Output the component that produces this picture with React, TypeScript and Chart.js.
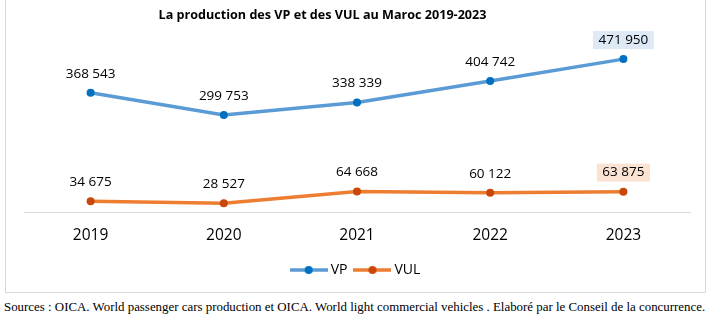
import React, { useEffect, useRef } from "react";
import { Chart, registerables } from "chart.js";

Chart.register(...registerables);

const TITLE = "La production des VP et des VUL au Maroc 2019-2023";
const SOURCE =
  "Sources : OICA. World passenger cars production et OICA. World light commercial vehicles . Elaboré par le Conseil de la concurrence.";

const years = ["2019", "2020", "2021", "2022", "2023"];
const vpValues = [368543, 299753, 338339, 404742, 471950];
const vulValues = [34675, 28527, 64668, 60122, 63875];
// highlighted label backgrounds (null = none)
const vpLabelBg = [null, null, null, null, "#dde9f5"];
const vulLabelBg = [null, null, null, null, "#fbe3d4"];

const fmt = (v: number) => String(v).replace(/\B(?=(\d{3})+(?!\d))/g, " ");

function makeLegendImage(line: string, dot: string) {
  const c = document.createElement("canvas");
  c.width = 38;
  c.height = 10;
  const x = c.getContext("2d")!;
  x.strokeStyle = line;
  x.lineWidth = 3.5;
  x.beginPath();
  x.moveTo(0, 5);
  x.lineTo(38, 5);
  x.stroke();
  x.fillStyle = dot;
  x.beginPath();
  x.arc(19, 5, 4, 0, Math.PI * 2);
  x.fill();
  return c;
}

const labelPlugin = {
  id: "valueLabels",
  afterDatasetsDraw(chart: any) {
    const ctx = chart.ctx;
    ctx.save();
    ctx.font = "13.5px 'Open Sans'";
    ctx.textAlign = "center";
    ctx.textBaseline = "middle";
    chart.data.datasets.forEach((ds: any, di: number) => {
      const meta = chart.getDatasetMeta(di);
      meta.data.forEach((pt: any, i: number) => {
        const txt = fmt(ds.data[i]);
        const x = pt.x;
        const y = pt.y - 19;
        const bg = ds.labelBg ? ds.labelBg[i] : null;
        if (bg) {
          const w = ctx.measureText(txt).width + 11;
          ctx.fillStyle = bg;
          ctx.fillRect(x - w / 2, y - 9, w, 18);
        }
        ctx.fillStyle = "#000";
        ctx.fillText(txt, x, y);
      });
    });
    ctx.restore();
  },
};

export default function App() {
  const ref = useRef<HTMLCanvasElement>(null);
  useEffect(() => {
    const vpImg = makeLegendImage("#5b9bd5", "#0070c0");
    const vulImg = makeLegendImage("#ed7d31", "#c9470a");
    const chart = new Chart(ref.current!, {
      type: "line",
      data: {
        labels: years,
        datasets: [
          {
            label: "VP",
            data: vpValues,
            borderColor: "#5b9bd5",
            borderWidth: 3.5,
            pointBackgroundColor: "#0070c0",
            pointBorderColor: "#0070c0",
            pointRadius: 4,
            pointBorderWidth: 0,
            labelBg: vpLabelBg,
          } as any,
          {
            label: "VUL",
            data: vulValues,
            borderColor: "#ed7d31",
            borderWidth: 3.5,
            pointBackgroundColor: "#c9470a",
            pointBorderColor: "#c9470a",
            pointRadius: 4,
            pointBorderWidth: 0,
            labelBg: vulLabelBg,
          } as any,
        ],
      },
      options: {
        responsive: false,
        animation: false,
        devicePixelRatio: 1,
        layout: { padding: { top: 50, left: 24, right: 19, bottom: 6 } },
        scales: {
          x: {
            offset: true,
            grid: { display: false, drawTicks: false },
            border: { display: true, color: "#d9d9d9", width: 1 },
            ticks: { color: "#000", font: { family: "'Open Sans'", size: 15.5 }, padding: 14 },
            afterFit: (s: any) => {
              s.height -= 6;
            },
          },
          y: { display: false, min: 0, max: 500000 },
        },
        plugins: {
          tooltip: { enabled: false },
          legend: {
            position: "bottom",
            labels: {
              usePointStyle: true,
              pointStyleWidth: 30,
              boxHeight: 10,
              padding: 10,
              color: "#000",
              font: { family: "'Open Sans'", size: 14 },
              generateLabels: (c: any) => {
                const items = Chart.defaults.plugins.legend.labels.generateLabels(c);
                items.forEach((it: any, i: number) => {
                  it.pointStyle = i === 0 ? vpImg : vulImg;
                });
                return items;
              },
            },
          },
        },
      },
      plugins: [labelPlugin],
    });
    return () => chart.destroy();
  }, []);

  return (
    <div style={{ position: "fixed", left: 0, top: 0, width: 709, height: 323, background: "#fff" }}>
      <div
        style={{
          position: "absolute",
          left: 5,
          top: -2,
          width: 701,
          height: 295,
          border: "1px solid #d9d9d9",
          boxSizing: "border-box",
        }}
      />
      <canvas ref={ref} width={709} height={293} style={{ position: "absolute", left: 0, top: 0 }} />
      <div
        style={{
          position: "absolute",
          left: 0,
          width: 709,
          top: 6,
          textAlign: "center",
          paddingRight: 64,
          boxSizing: "border-box",
          font: "bold 12.6px 'Open Sans'",
          color: "#000",
          whiteSpace: "nowrap",
        }}
      >
        {TITLE}
      </div>
      <div
        style={{
          position: "absolute",
          left: 4,
          top: 300,
          font: "12.9px 'Liberation Serif', 'Times New Roman', serif",
          color: "#000",
          whiteSpace: "nowrap",
        }}
      >
        {SOURCE}
      </div>
    </div>
  );
}
